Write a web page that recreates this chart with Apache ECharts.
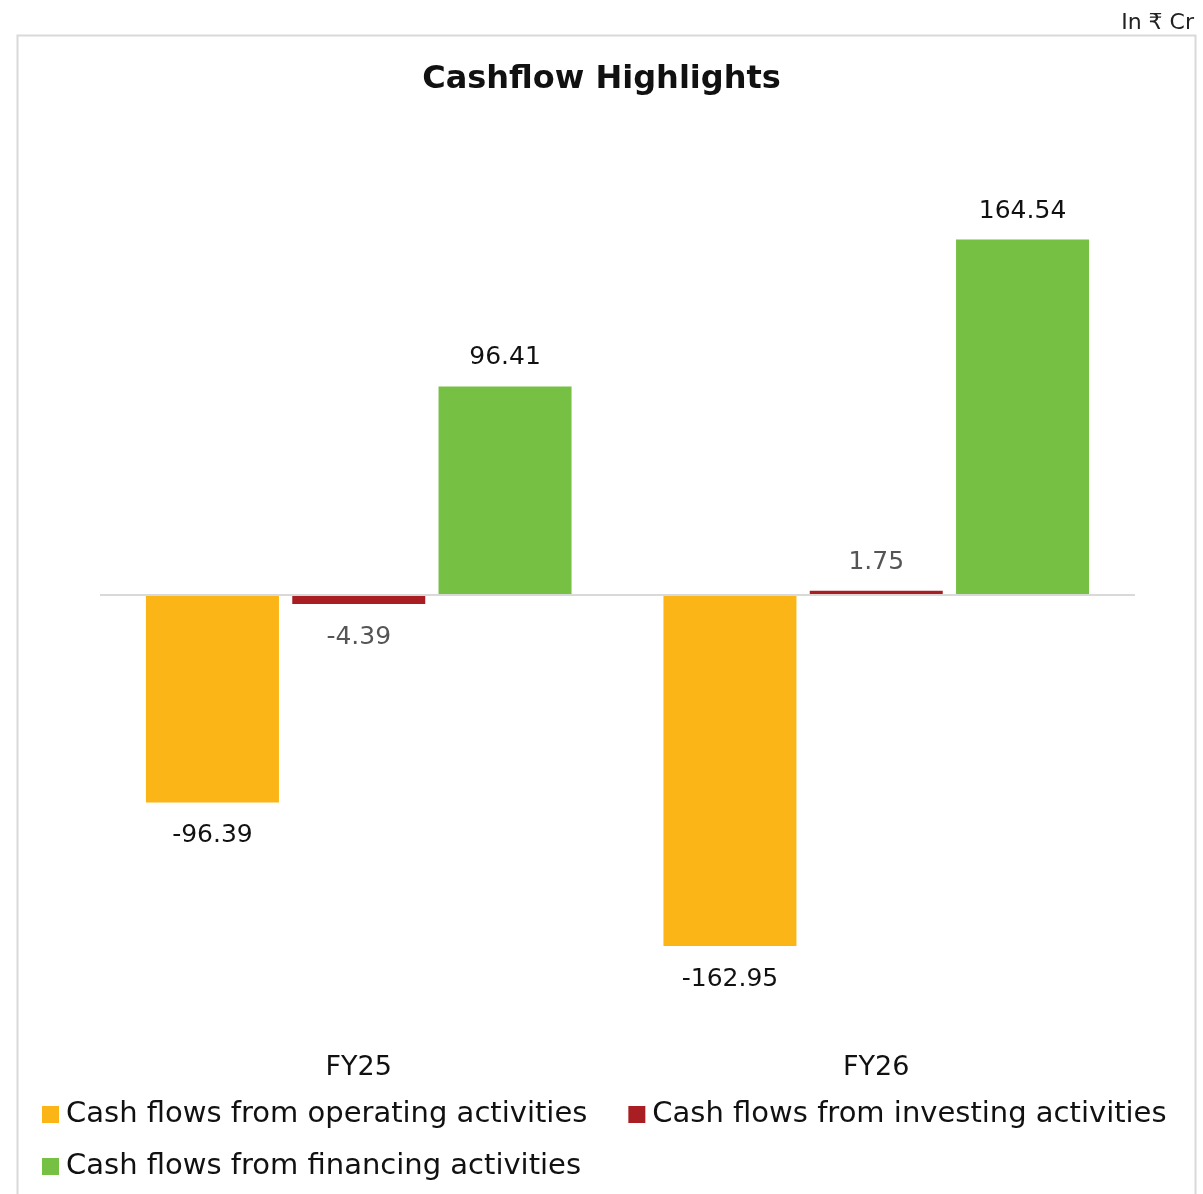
<!DOCTYPE html>
<html>
<head>
<meta charset="utf-8">
<script src="https://cdn.jsdelivr.net/npm/echarts@6/dist/echarts.min.js"></script>
<style>html,body{margin:0;padding:0;background:#fff}#c{width:1203px;height:1194px}</style>
</head>
<body>
<div id="c"></div>
<script>
const categories = ['FY25', 'FY26'];
const seriesNames = ['Cash flows from operating activities', 'Cash flows from investing activities', 'Cash flows from financing activities'];
const operating = [-96.39, -162.95];
const investing = [-4.39, 1.75];
const financing = [96.41, 164.54];

const FONT = '"DejaVu Sans", "Open Sans", sans-serif';
const chart = echarts.init(document.getElementById('c'));
function mk(name, data, color, labelColor) {
  return {
    name: name,
    type: 'bar',
    data: data.map(v => ({ value: v, label: { position: v < 0 ? 'bottom' : 'top', distance: v < 0 ? 21 : 16 } })),
    barWidth: 133,
    barGap: '10%',
    itemStyle: { color: color },
    label: {
      show: true,
      fontFamily: FONT,
      fontSize: 25,
      color: labelColor,
      formatter: p => p.value.toFixed(2)
    }
  };
}
const s1 = mk(seriesNames[0], operating, '#FBB516', '#111');
s1.markLine = {
  silent: true, symbol: 'none', label: { show: false },
  lineStyle: { color: '#d9d9d9', width: 2, type: 'solid' },
  data: [{ yAxis: 0 }]
};
const s2 = mk(seriesNames[1], investing, '#A91E23', '#555');
const s3 = mk(seriesNames[2], financing, '#76C043', '#111');
chart.setOption({
  animation: false,
  backgroundColor: '#fff',
  title: [
    { text: 'Cashflow Highlights', left: 'center', top: 59, textStyle: { fontFamily: FONT, fontSize: 32, fontWeight: 'bold', color: '#111' } },
    { text: 'In ₹ Cr', right: 4, top: 7, textStyle: { fontFamily: FONT, fontSize: 22, fontWeight: 'normal', color: '#222' } }
  ],
  graphic: [{
    type: 'rect', shape: { x: 17.5, y: 35.5, width: 1178, height: 1200 },
    style: { fill: 'none', stroke: '#d9d9d9', lineWidth: 2 }, silent: true, z: -1
  }],
  legend: [
    { data: [seriesNames[0], seriesNames[1]], left: 37, top: 1095, itemWidth: 17, itemHeight: 17, itemGap: 41, icon: 'rect',
      textStyle: { fontFamily: FONT, fontSize: 29, color: '#111', padding: [0, 0, 0, 2] } },
    { data: [seriesNames[2]], left: 37, top: 1147, itemWidth: 17, itemHeight: 17, itemGap: 41, icon: 'rect',
      textStyle: { fontFamily: FONT, fontSize: 29, color: '#111', padding: [0, 0, 0, 2] } }
  ],
  grid: { left: 100, right: 68, top: 163, height: 863 },
  xAxis: {
    type: 'category', data: categories,
    axisLine: { show: false, onZero: false }, axisTick: { show: false },
    axisLabel: { fontFamily: FONT, fontSize: 27, color: '#111', margin: 28 }
  },
  yAxis: {
    type: 'value', min: -200, max: 200, interval: 50, show: false,
    splitLine: { show: false }
  },
  series: [s1, s2, s3]
});
</script>
</body>
</html>
